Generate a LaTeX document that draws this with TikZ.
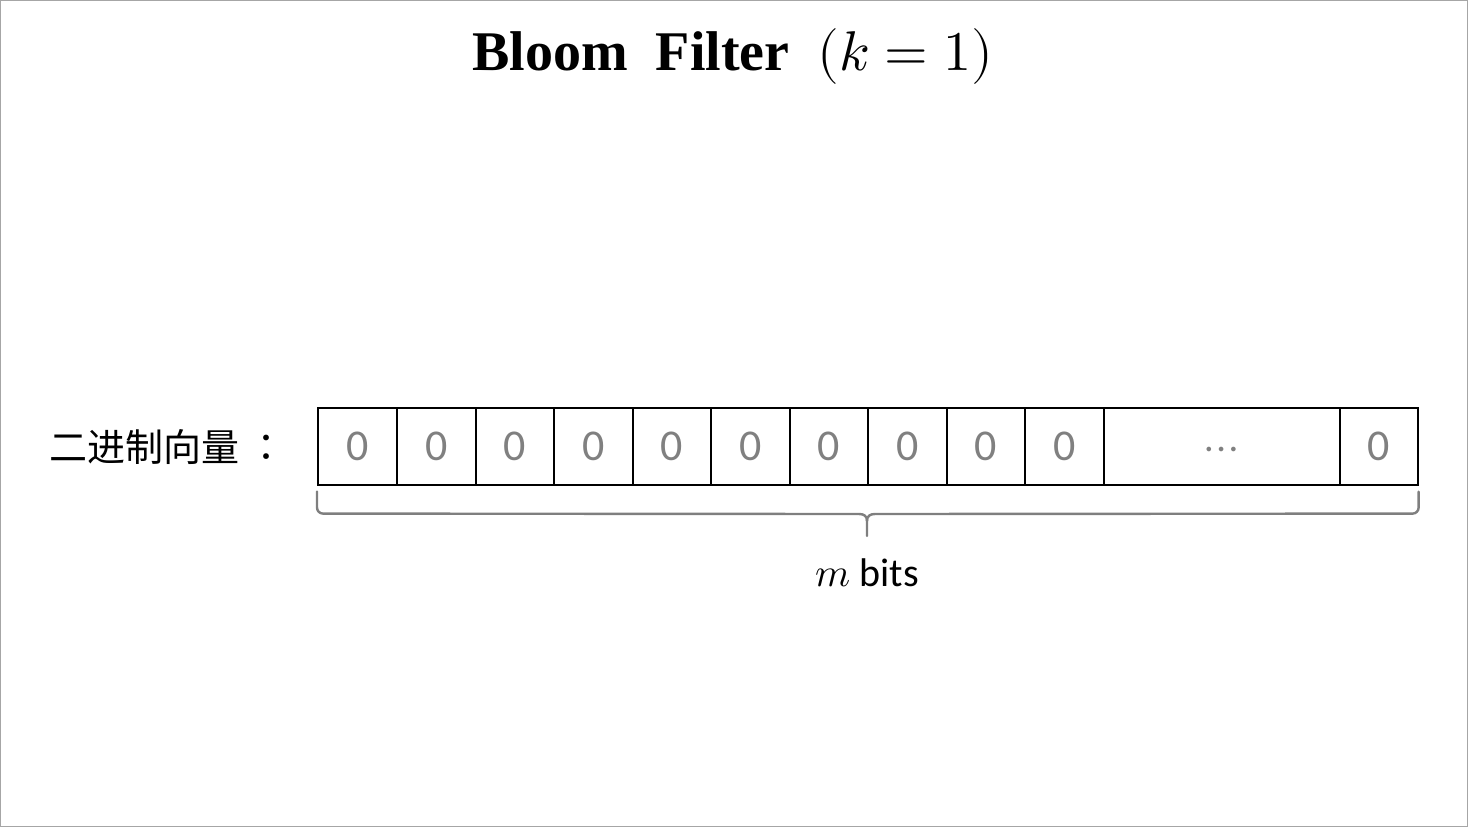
\documentclass[tikz,border=0pt]{standalone}
\usepackage{fontspec}
\usepackage{unicode-math}
\setmainfont{Liberation Serif}
\newfontfamily\cjk{Noto Sans CJK SC}
\newfontfamily\cjktc{Noto Sans CJK TC}
\newfontfamily\calib{Carlito}
\definecolor{zgrey}{RGB}{128,128,128}
\definecolor{bgrey}{RGB}{127,127,127}
\tikzset{
  cell/.style={draw=black, line width=1.6pt, minimum height=77pt, inner sep=0pt, anchor=north west, font=\calib\fontsize{44}{50}\selectfont, text=zgrey},
  bracestyle/.style={draw=bgrey, line width=2.4pt, line cap=round, line join=round},
}
\begin{document}
\begin{tikzpicture}[x=1pt,y=-1pt]
\useasboundingbox (0,0) rectangle (1468,827);
\draw[gray!70, line width=1pt] (0.5,0.5) rectangle (1467.5,826.5);
\node (title) at (733,56) {\fontsize{56}{60}\selectfont\bfseries Bloom\ \ Filter\ \ $(k=1)$};
\node[font=\cjk\fontsize{38}{40}\selectfont, anchor=west] (label) at (46,447) {二进制向量\hspace{8pt}{\cjktc：}};
\foreach \i/\a/\b in {1/317/396,2/396/475,3/475/553,4/553/632,5/632/710,6/710/789,7/789/867,8/867/946,9/946/1024,10/1024/1103,12/1339/1417}{
  \pgfmathsetmacro{\w}{\b-\a}
  \node[cell, minimum width=\w pt] (c\i) at (\a,407) {0};
}
\node[cell, minimum width=236pt] (c11) at (1103,407) {\vphantom{0}$\cdots$};
\coordinate (bl) at ([yshift=-6pt]c1.south west);
\coordinate (br) at ([yshift=-6pt]c12.south east);
\coordinate (btip) at (867,536);
\draw[bracestyle] (bl) -- ++(0,16) arc[start angle=180, end angle=90, radius=6] -- (859,514)
  .. controls (864,514) and (867,516) .. (867,521) -- (btip);
\draw[bracestyle] (br) -- ++(0,16) arc[start angle=0, end angle=90, radius=6] -- (875,514)
  .. controls (870,514) and (867,516) .. (867,521);
\node (mbits) at (867,573) {\calib\fontsize{40}{42}\selectfont $m$ bits};
\end{tikzpicture}
\end{document}
